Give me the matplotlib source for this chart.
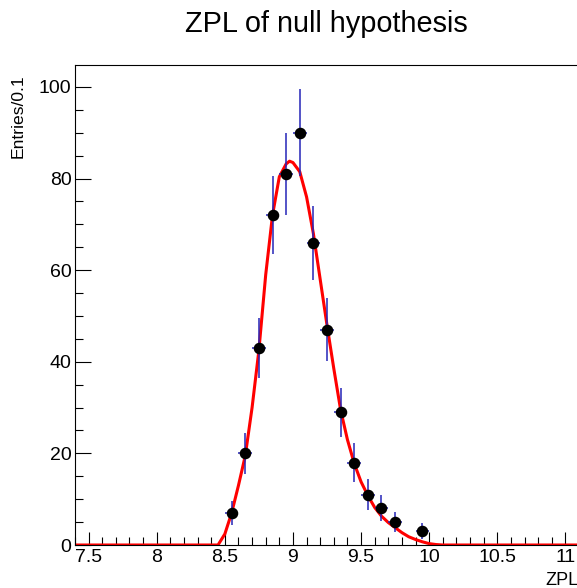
import numpy as np
import matplotlib
matplotlib.use('Agg')
import matplotlib.pyplot as plt
from matplotlib.ticker import MultipleLocator

plt.rcParams['font.family'] = ['Liberation Sans', 'DejaVu Sans']

# histogram bins (centres) and counts
bin_centers = [8.55, 8.65, 8.75, 8.85, 8.95, 9.05, 9.15, 9.25,
               9.35, 9.45, 9.55, 9.65, 9.75, 9.95]
counts = [7, 20, 43, 72, 81, 90, 66, 47, 29, 18, 11, 8, 5, 3]
bin_width = 0.1

# fit curve
fit_x = [7.4, 8.45, 8.5, 8.55, 8.6, 8.65, 8.7, 8.75, 8.8, 8.85, 8.9, 8.95,
         8.975, 9.0, 9.05, 9.1, 9.15, 9.2, 9.25, 9.3, 9.35, 9.4, 9.45, 9.5,
         9.55, 9.6, 9.65, 9.7, 9.75, 9.8, 9.85, 9.9, 9.95, 10.0, 10.05,
         10.1, 11.1]
fit_y = [0, 0, 2.4, 7, 13, 19.5, 30, 42.5, 59, 72, 80.4, 83.2,
         83.8, 83.5, 81.5, 76, 68, 58, 48, 38.5, 29.5, 23, 17.8, 13.8,
         10.8, 8.2, 6.3, 4.9, 3.8, 2.7, 1.8, 1.2, 0.7, 0.3, 0.1,
         0, 0]


def plot_zpl(save_path):

    W, H = 577, 588
    fig = plt.figure(figsize=(W / 100, H / 100), dpi=100)
    ax = fig.add_axes([75 / W, 43 / H, (579 - 75) / W, 480 / H])

    ax.plot(fit_x, fit_y, color='#ff0000', linewidth=2.2, zorder=2)

    ax.errorbar(
        bin_centers, counts,
        yerr=np.sqrt(counts),
        xerr=bin_width / 2,
        fmt='o',
        color='black',
        markersize=7.3,
        ecolor='#2424b8',
        elinewidth=1.1,
        capsize=0,
        zorder=3,
    )

    ax.set_xlim(7.4, 11.1)
    ax.set_ylim(0, 104.8)

    ax.xaxis.set_major_locator(MultipleLocator(0.5))
    ax.xaxis.set_minor_locator(MultipleLocator(0.1))
    ax.yaxis.set_major_locator(MultipleLocator(20))
    ax.yaxis.set_minor_locator(MultipleLocator(5))
    ax.set_xticks([7.5, 8, 8.5, 9, 9.5, 10, 10.5, 11],
                  ['7.5', '8', '8.5', '9', '9.5', '10', '10.5', '11'])

    ax.tick_params(axis='both', which='both', direction='in',
                   top=False, right=False, labelsize=14, width=0.8)
    ax.tick_params(axis='x', which='major', length=9.5, pad=3)
    ax.tick_params(axis='x', which='minor', length=5.5)
    ax.tick_params(axis='y', which='major', length=11.5, pad=2.5)
    ax.tick_params(axis='y', which='minor', length=6)

    for s in ax.spines.values():
        s.set_linewidth(0.8)

    fig.text(326 / W, 1 - 32 / H, 'ZPL of null hypothesis',
             ha='center', va='baseline', fontsize=20.8)
    fig.text(18 / W, 1 - 74 / H, 'Entries/0.1', rotation=90,
             ha='center', va='top', fontsize=12.6)
    fig.text(578 / W, 1 - 572 / H, 'ZPL', ha='right', va='top', fontsize=13)

    fig.savefig(save_path, dpi=100)


plot_zpl('out.png')
